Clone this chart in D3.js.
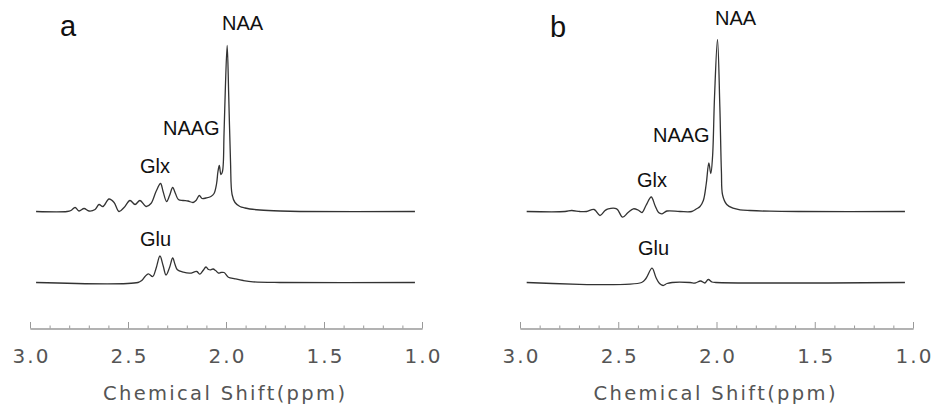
<!DOCTYPE html>
<html>
<head>
<meta charset="utf-8">
<script src="https://cdn.jsdelivr.net/npm/d3@7"></script>
<style>
  body { margin: 0; background: #fff; }
  svg { display: block; }
  .tick-label text { font-family: "DejaVu Sans", sans-serif; fill: #555; }
  .peak-label { font-family: "Liberation Sans", Arial, sans-serif; fill: #111; }
</style>
</head>
<body>
<div class="spectra"></div>
<script>
// spectra: [ppm, intensity (arbitrary units)]
var aTop = [
  [2.969,0],[2.811,0],[2.791,1],[2.770,4],[2.750,0.5],[2.724,3],[2.699,0.5],[2.668,2],
  [2.648,7],[2.628,5],[2.597,12.5],[2.571,9],[2.546,0],[2.520,4],[2.490,11],[2.464,7],
  [2.439,11],[2.408,5],[2.383,8],[2.357,20],[2.334,28],[2.321,20],[2.303,10],[2.288,16],
  [2.272,24],[2.258,18],[2.243,12],[2.219,11],[2.194,10.5],[2.168,9],[2.153,11],[2.136,16],
  [2.122,13],[2.102,13.5],[2.077,15],[2.061,18],[2.048,28],[2.041,40],[2.034,46],[2.026,37],
  [2.018,40],[2.010,78],[2.003,125],[1.994,166],[1.986,115],[1.977,50],[1.969,17],[1.954,9],
  [1.929,5],[1.903,3.5],[1.878,2.5],[1.827,1.5],[1.724,0.5],[1.622,0],[1.036,0]
];
var aGlu = [
  [2.969,0],[2.449,0],[2.430,2],[2.413,6],[2.396,8.7],[2.374,6],[2.357,14],[2.337,26.5],
  [2.321,17],[2.306,7.5],[2.288,15],[2.272,24.5],[2.260,18],[2.248,12.7],[2.218,10.3],
  [2.184,9.3],[2.149,11],[2.133,8.3],[2.117,12],[2.102,15.5],[2.089,13],[2.078,12.7],
  [2.066,13.5],[2.053,12],[2.039,9.5],[2.026,10],[2.010,10],[1.988,5.3],[1.954,3.7],
  [1.912,2],[1.862,0.7],[1.724,0],[1.036,0]
];
var bTop = [
  [2.966,0],[2.771,0],[2.737,1],[2.695,0],[2.661,0],[2.623,2],[2.593,-4],[2.567,1],
  [2.551,2.7],[2.508,2.7],[2.478,-5.7],[2.450,-1],[2.423,2.7],[2.399,1.5],[2.379,-1],
  [2.359,6],[2.332,14.5],[2.313,6],[2.295,-1],[2.277,-2.3],[2.252,0.5],[2.186,0],[2.126,0],
  [2.101,2.7],[2.084,5],[2.067,11],[2.052,28],[2.039,48.5],[2.029,38],[2.020,55],
  [2.010,115],[1.995,172],[1.983,105],[1.975,40],[1.969,16.5],[1.948,7],[1.916,3.3],
  [1.880,1.7],[1.830,1],[1.728,0.3],[1.575,0],[1.041,0]
];
var bGlu = [
  [2.966,0],[2.381,0],[2.359,4],[2.328,14.3],[2.308,5],[2.290,-1],[2.272,-3],[2.252,-1],
  [2.226,0],[2.135,0],[2.109,-0.5],[2.081,1.5],[2.059,-0.5],[2.042,3],[2.023,0.5],
  [2.003,0],[1.041,0]
];

var majorTicks = [3.0, 2.5, 2.0, 1.5, 1.0];
var minorTicks = [2.9, 2.8, 2.7, 2.6, 2.4, 2.3, 2.2, 2.1, 1.9, 1.8, 1.7, 1.6, 1.4, 1.3, 1.2, 1.1];
var axisTitle = "Chemical Shift(ppm)";

document.addEventListener('DOMContentLoaded', function () {
  var svg = d3.select('div.spectra').append('svg')
      .attr('width', 936)
      .attr('height', 407);

  spectraPanel(svg, {
    letter: 'a', x0: 30, x1: 422, spectra: [aTop, aGlu],
    labels: [
      {text: 'a', x: 60, y: 35.5, size: 29},
      {text: 'NAA', x: 222, y: 30, size: 20},
      {text: 'NAAG', x: 163, y: 135, size: 20},
      {text: 'Glx', x: 140, y: 173, size: 20},
      {text: 'Glu', x: 140, y: 246, size: 20}
    ]
  });
  spectraPanel(svg, {
    letter: 'b', x0: 520, x1: 913, spectra: [bTop, bGlu],
    labels: [
      {text: 'b', x: 550, y: 37, size: 29},
      {text: 'NAA', x: 715, y: 24.5, size: 20},
      {text: 'NAAG', x: 653, y: 141.5, size: 20},
      {text: 'Glx', x: 637, y: 186.5, size: 20},
      {text: 'Glu', x: 638, y: 255, size: 20}
    ]
  });
});

function spectraPanel(svg, opts) {
  var baselines = [211.5, 282.5];
  var axisY = 328.5;

  var xScale = d3.scaleLinear()
      .domain([3.0, 1.0])
      .range([opts.x0, opts.x1]);

  var g = svg.append('g').attr('class', 'panel-' + opts.letter);

  opts.spectra.forEach(function (data, i) {
    var yScale = d3.scaleLinear()
        .domain([0, 100])
        .range([baselines[i], baselines[i] - 100]);
    var line = d3.line()
        .x(d => xScale(d[0]))
        .y(d => yScale(d[1]))
        .curve(d3.curveCatmullRom.alpha(0.5));
    g.append('path')
      .attr('d', line(data))
      .attr('fill', 'none')
      .attr('stroke', '#333')
      .attr('stroke-width', 1.3)
      .attr('stroke-linejoin', 'round');
  });

  // ticks point up from the axis line, labels sit below it
  var minorAxis = d3.axisTop(xScale)
      .tickValues(minorTicks)
      .tickSize(3)
      .tickSizeOuter(0)
      .tickFormat('');
  var majorAxis = d3.axisTop(xScale)
      .tickValues(majorTicks)
      .tickSize(6.5)
      .tickSizeOuter(0)
      .tickFormat('');
  var labelAxis = d3.axisBottom(xScale)
      .tickValues(majorTicks)
      .tickSize(0)
      .tickPadding(20)
      .tickFormat(d3.format('.1f'));

  [minorAxis, majorAxis].forEach(function (ax) {
    var a = g.append('g')
        .attr('transform', 'translate(0,' + axisY + ')')
        .call(ax);
    a.selectAll('path, line').attr('stroke', '#999').attr('stroke-width', 1);
  });

  var lab = g.append('g')
      .attr('class', 'tick-label')
      .attr('transform', 'translate(0,' + axisY + ')')
      .call(labelAxis);
  lab.select('.domain').remove();
  lab.selectAll('text')
    .attr('font-size', 20)
    .attr('letter-spacing', 2)
    .attr('dx', 1);

  var mid = (opts.x0 + opts.x1) / 2;
  g.append('text')
    .attr('x', mid - 123)
    .attr('y', 400)
    .attr('font-family', '"DejaVu Sans", sans-serif')
    .attr('font-size', 19.5)
    .attr('textLength', 242)
    .attr('lengthAdjust', 'spacing')
    .attr('fill', '#555')
    .text(axisTitle);

  g.selectAll('text.peak-label')
    .data(opts.labels)
    .enter().append('text')
    .attr('class', 'peak-label')
    .attr('x', d => d.x)
    .attr('y', d => d.y)
    .attr('font-size', d => d.size)
    .text(d => d.text);
}
</script>
</body>
</html>
